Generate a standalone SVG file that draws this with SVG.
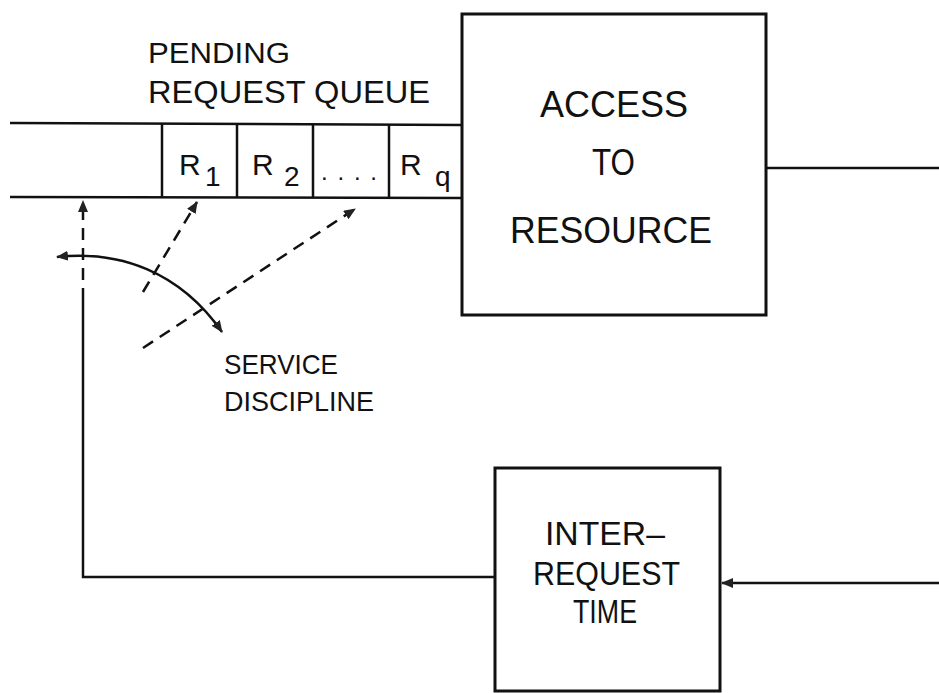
<svg xmlns="http://www.w3.org/2000/svg" width="939" height="693" viewBox="0 0 939 693">
<style>
.ln{fill:none;stroke:#111;stroke-width:2.5;}
.dash{fill:none;stroke:#111;stroke-width:2.5;stroke-dasharray:12 8;}
.box{fill:#fff;stroke:#111;stroke-width:3;}
.t{font-family:"Liberation Sans","DejaVu Sans",sans-serif;fill:#111;}
</style>
<defs>
<marker id="ah" viewBox="0 0 12 10" refX="11" refY="5" markerWidth="12" markerHeight="10" markerUnits="userSpaceOnUse" orient="auto-start-reverse">
<path d="M0,0 L12,5 L0,10 Z" fill="#222"/>
</marker>
</defs>
<rect width="939" height="693" fill="#fff"/>
<g id="connectors">
<path class="ln" d="M766,168 L939,168"/>
<path class="ln" d="M939,583 L722,583" marker-end="url(#ah)"/>
<path class="ln" d="M495,577 L83,577 L83,300"/>
<path class="dash" d="M83,300 L83,201" marker-end="url(#ah)"/>
<path class="dash" d="M143,292 L197,202" marker-end="url(#ah)"/>
<path class="dash" d="M143,348 L355,209" marker-end="url(#ah)"/>
<path class="ln" d="M57,257 C120,250 180,272 222,332" marker-start="url(#ah)" marker-end="url(#ah)"/>
</g>
<g id="queue">
<path class="ln" d="M10,123 L462,125"/>
<path class="ln" d="M10,197 L462,198"/>
<path class="ln" d="M162,124 L162,197 M237,124 L237,197 M313,124 L313,198 M389,125 L389,198"/>
<text class="t" x="148" y="63" font-size="30" textLength="142" lengthAdjust="spacingAndGlyphs">PENDING</text>
<text class="t" x="148" y="103" font-size="32" textLength="282" lengthAdjust="spacingAndGlyphs">REQUEST  QUEUE</text>
<text class="t" x="179" y="175" font-size="30">R</text>
<text class="t" x="205" y="186" font-size="28">1</text>
<text class="t" x="252" y="175" font-size="30">R</text>
<text class="t" x="284" y="186" font-size="28">2</text>
<text class="t" x="321" y="180" font-size="24" textLength="56" lengthAdjust="spacing">. . . .</text>
<text class="t" x="400" y="175" font-size="30">R</text>
<text class="t" x="435" y="186" font-size="28">q</text>
</g>
<g id="access">
<rect class="box" x="462" y="14" width="304" height="301"/>
<text class="t" x="540" y="117" font-size="36" textLength="148" lengthAdjust="spacingAndGlyphs">ACCESS</text>
<text class="t" x="592" y="175" font-size="36" textLength="43" lengthAdjust="spacingAndGlyphs">TO</text>
<text class="t" x="510" y="243" font-size="36" textLength="202" lengthAdjust="spacingAndGlyphs">RESOURCE</text>
</g>
<g id="interrequest">
<rect class="box" x="495" y="468" width="225" height="223"/>
<text class="t" x="545" y="545" font-size="34" textLength="120" lengthAdjust="spacingAndGlyphs">INTER–</text>
<text class="t" x="533" y="585" font-size="34" textLength="147" lengthAdjust="spacingAndGlyphs">REQUEST</text>
<text class="t" x="573" y="623" font-size="34" textLength="64" lengthAdjust="spacingAndGlyphs">TIME</text>
</g>
<g id="service">
<text class="t" x="224" y="374" font-size="28" textLength="114" lengthAdjust="spacingAndGlyphs">SERVICE</text>
<text class="t" x="224" y="411" font-size="28" textLength="150" lengthAdjust="spacingAndGlyphs">DISCIPLINE</text>
</g>
</svg>
